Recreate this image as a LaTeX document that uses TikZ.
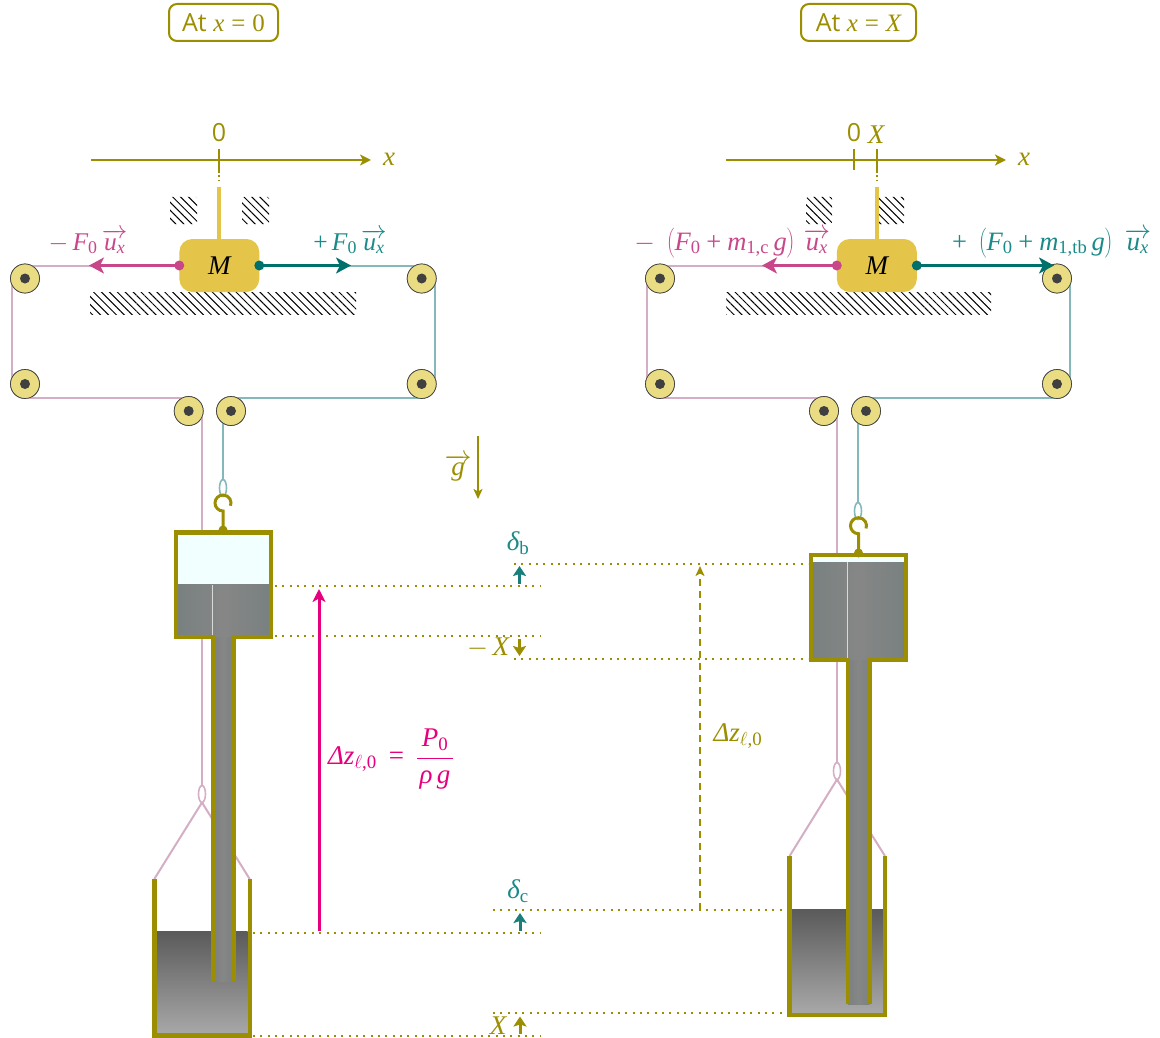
\documentclass[tikz,border=0pt]{standalone}
\usepackage{fix-cm}
\usepackage[no-math]{fontspec}
\newfontfamily\labelsans{Open Sans}
\newfontfamily\libs[NFSSFamily=libs]{Liberation Serif}
\DeclareSymbolFont{cmlet}{OML}{cmm}{m}{it}
\DeclareSymbolFont{letters}{TU}{libs}{m}{it}
\DeclareSymbolFont{operators}{TU}{libs}{m}{n}
\DeclareMathSymbol{\myell}{\mathord}{cmlet}{"60}
\DeclareMathSymbol{,}{\mathpunct}{operators}{`,}
\newcommand{\gk}[1]{\mbox{\libs\itshape #1}}
\newcommand{\vecux}{\overrightarrow{\rule{0pt}{13pt}u_x}}
\usetikzlibrary{arrows.meta,patterns.meta,shapes.geometric,calc}
\definecolor{olive}{HTML}{9B8E00}
\definecolor{pinkf}{HTML}{C8478A}
\definecolor{tealf}{HTML}{00706D}
\definecolor{tealt}{HTML}{1A8A88}
\definecolor{pinkrope}{HTML}{D4AEC4}
\definecolor{tealrope}{HTML}{85B8BA}
\definecolor{massc}{HTML}{E5C44A}
\definecolor{pulleyc}{HTML}{E9DC82}
\definecolor{hubc}{HTML}{404040}
\definecolor{magentaf}{HTML}{E6007E}
\definecolor{airc}{HTML}{F2FFFF}
\definecolor{tubeedge}{HTML}{788180}
\definecolor{tubemid}{HTML}{868686}
\definecolor{stemedge}{HTML}{7C8181}
\definecolor{liqtop}{HTML}{5A5A5A}
\definecolor{liqbot}{HTML}{A8A8A8}
\tikzset{
  every node/.style={inner sep=0pt,outer sep=0pt},
  txt/.style={font=\fontsize{27}{30}\selectfont},
  forcetxt/.style={font=\fontsize{25.5}{30}\selectfont},
  widetxt/.style={font=\fontsize{26.5}{30}\selectfont},
  titlebox/.style={draw=olive,text=olive,line width=2pt,rounded corners=8pt,minimum height=37pt,font=\labelsans\fontsize{25}{28}\selectfont},
  sanslabel/.style={text=olive,font=\labelsans\fontsize{25}{28}\selectfont},
  pulley/.style={circle,draw=hubc,fill=pulleyc,line width=0.7pt,minimum size=29pt},
  hub/.style={fill=hubc},
  hatchbox/.style={pattern={Lines[angle=-45,distance=5.6pt,line width=1pt]},rounded corners=1.5pt},
  massbox/.style={fill=massc,rounded corners=13pt,minimum width=80pt,minimum height=53pt,font=\fontsize{27}{30}\selectfont},
  axisline/.style={draw=olive,line width=2pt,-{Stealth[length=11pt,width=11pt,inset=3pt]}},
  tickline/.style={draw=olive,line width=1.3pt},
  tickdots/.style={draw=olive,line width=1.4pt,dash pattern=on 3pt off 2pt on 2pt off 3pt on 1.5pt off 9pt},
  ropeP/.style={draw=pinkrope,line width=2pt},
  ropeT/.style={draw=tealrope,line width=2pt},
  forceP/.style={draw=pinkf,line width=3.6pt,-{Stealth[length=15pt,width=16pt,inset=4pt]}},
  forceT/.style={draw=tealf,line width=3.6pt,-{Stealth[length=15pt,width=16pt,inset=4pt]}},
  wall/.style={draw=olive,line width=4.4pt,line join=miter},
  hookline/.style={draw=olive,line width=3pt},
  dotline/.style={draw=olive,line width=2pt,dash pattern=on 2pt off 5.35pt},
  loopP/.style={ellipse,draw=pinkrope,line width=1.6pt,minimum width=7pt,minimum height=17pt},
  loopT/.style={ellipse,draw=tealrope,line width=1.6pt,minimum width=7pt,minimum height=17pt},
  smallT/.style={draw=tealf!90,line width=3pt,-{Stealth[length=10pt,width=13pt,inset=2pt]}},
  smallO/.style={draw=olive,line width=3pt,-{Stealth[length=10pt,width=13pt,inset=2pt]}},
  gline/.style={draw=olive,line width=1.8pt,-{Stealth[length=10pt,width=9pt,inset=2.5pt]}},
  thinglow/.style={draw=white!70!gray,line width=1pt},
  tubeshade/.style={left color=tubeedge,right color=tubeedge,middle color=tubemid},
  stemshade/.style={left color=stemedge,right color=stemedge,middle color=tubemid},
  liquid/.style={top color=liqtop,bottom color=liqbot},
}
\begin{document}
\begin{tikzpicture}[x=1pt,y=-1pt]
\useasboundingbox (0,0) rectangle (1160,1038);
% ---------- titles
\node[titlebox,minimum width=109pt] (tL) at (223.5,22.5) {At $x=0$};
\node[titlebox,minimum width=115pt] (tR) at (858.5,22.5) {At $x=X$};
% ---------- LEFT: axis
\coordinate (axLa) at (91,160); \coordinate (axLb) at (371,160);
\draw[axisline] (axLa) -- (axLb);
\node[txt,text=olive] (xL) at (389,159) {$x$};
\node[sanslabel] (zeroL) at (219,133) {0};
\draw[tickline] (219,149) -- (219,170);
\draw[tickdots] (219,170) -- (219,183);
% LEFT: hatches
\path[hatchbox] (170,197) rectangle (197,224);
\path[hatchbox] (242,197) rectangle (269,224);
\path[pattern={Lines[angle=-45,distance=5.6pt,line width=1pt]}] (90,292) rectangle (356,314);
% LEFT: pulleys
\node[pulley] (pa) at (25,278.5) {};
\node[pulley] (pb) at (25,384) {};
\node[pulley] (pc) at (188.7,411) {};
\node[pulley] (pd) at (421.7,278.5) {};
\node[pulley] (pe) at (421.7,384) {};
\node[pulley] (pf) at (231,411) {};
% LEFT: loops
\node[loopT] (ltL) at (223,488) {};
\node[loopP] (lpL) at (202,794) {};
\coordinate (tipPL) at (100,265.5); \coordinate (tipTL) at (340,265.5);
\coordinate (buckLa) at (154.3,879); \coordinate (buckLb) at (249.7,879);
\draw[ropeP] (tipPL) -- (tipPL -| pa);
\draw[ropeP] ([xshift=1.2pt]pa.west) -- ([xshift=1.2pt]pb.west);
\draw[ropeP] ([yshift=1pt]pb.south) -- ([yshift=1pt]pb.south -| pc);
\draw[ropeP] (lpL.north |- pc) -- (lpL.north);
\draw[ropeP] (lpL.south) -- (buckLa);
\draw[ropeP] (lpL.south) -- (buckLb);
\draw[ropeT] (tipTL) -- (tipTL -| pd);
\draw[ropeT] ([xshift=-1.2pt]pd.east) -- ([xshift=-1.2pt]pe.east);
\draw[ropeT] ([yshift=1pt]pe.south) -- ([yshift=1pt]pe.south -| pf);
\draw[ropeT] (ltL.north) -- (ltL.north |- pf);
\foreach \n in {pa,pb,pc,pd,pe,pf}{\node[pulley] at (\n) {}; \fill[hub] (\n) circle (5);}
% LEFT: mass
\draw[massc,line width=4pt] (219,187) -- (219,240);
\node[massbox] (mL) at (219.3,265.5) {$M$};
\draw[forceP] (mL.west) -- (89,265.5);
\draw[forceT] (mL.east) -- (351,265.5);
\fill[pinkf] (mL.west) circle (5);
\fill[tealf] (mL.east) circle (5);
\node[forcetxt,text=pinkf,anchor=base] (fL) at (88,250) {$-\,F_0\,\vecux$};
\node[forcetxt,text=tealt,anchor=base] (fR) at (350,250) {$+\,F_0\,\vecux$};
% LEFT: bucket
\shade[liquid] (156.5,931) rectangle (247.5,1034);
\draw[wall] (154.3,878.7) -- (154.3,1035.5) -- (249.7,1035.5) -- (249.7,878.7);
% LEFT: float
\fill[airc] (176,532) rectangle (271,585);
\shade[tubeshade] (176,584) rectangle (271,637);
\shade[stemshade] (213,637) rectangle (233.5,981);
\draw[thinglow] (212.5,585) -- (212.5,635);
\draw[wall] (213,981.7) -- (213,637) -- (176,637) -- (176,532.5) -- (271,532.5) -- (271,637) -- (233.5,637) -- (233.5,981.7);
% LEFT: hook
\draw[hookline] (223,530) -- (223,511) arc (90:380:8);
\fill[olive] (223,530) circle (4.5);
% ---------- g
\coordinate (ga) at (478,436); \coordinate (gb) at (478,499);
\draw[gline] (ga) -- (gb);
\node[txt,text=olive] (gl) at (458,468) {$\overrightarrow{g}$};
% ---------- RIGHT: axis
\coordinate (axRa) at (726,160); \coordinate (axRb) at (1006,160);
\draw[axisline] (axRa) -- (axRb);
\node[txt,text=olive] (xR) at (1024,159) {$x$};
\node[sanslabel] (zeroR) at (854,133) {0};
\node[txt,text=olive] (XR) at (876,135) {$X$};
\draw[tickline] (854,149) -- (854,170);
\draw[tickline] (877,149) -- (877,170);
\draw[tickdots] (877,170) -- (877,183);
% RIGHT: hatches
\path[hatchbox] (806,197) rectangle (832,224);
\path[hatchbox] (878,197) rectangle (904,224);
\path[pattern={Lines[angle=-45,distance=5.6pt,line width=1pt]}] (726,292) rectangle (991,314);
% RIGHT: pulleys and ropes
\node[pulley] (qa) at (660,278.5) {};
\node[pulley] (qb) at (660,384) {};
\node[pulley] (qc) at (824,411) {};
\node[pulley] (qd) at (1057,278.5) {};
\node[pulley] (qe) at (1057,384) {};
\node[pulley] (qf) at (866,411) {};
\node[loopT] (ltR) at (858,511) {};
\node[loopP] (lpR) at (837,771) {};
\coordinate (tipPR) at (770,265.5);
\coordinate (buckRa) at (789.6,856); \coordinate (buckRb) at (885,856);
\draw[ropeP] (tipPR) -- (tipPR -| qa);
\draw[ropeP] ([xshift=1.2pt]qa.west) -- ([xshift=1.2pt]qb.west);
\draw[ropeP] ([yshift=1pt]qb.south) -- ([yshift=1pt]qb.south -| qc);
\draw[ropeP] (lpR.north |- qc) -- (lpR.north);
\draw[ropeP] (lpR.south) -- (buckRa);
\draw[ropeP] (lpR.south) -- (buckRb);
\draw[ropeT] ([xshift=-1.2pt]qd.east) -- ([xshift=-1.2pt]qe.east);
\draw[ropeT] ([yshift=1pt]qe.south) -- ([yshift=1pt]qe.south -| qf);
\draw[ropeT] (ltR.north) -- (ltR.north |- qf);
\foreach \n in {qa,qb,qc,qd,qe,qf}{\node[pulley] at (\n) {}; \fill[hub] (\n) circle (5);}
% RIGHT: mass
\draw[massc,line width=4pt] (877,187) -- (877,240);
\node[massbox] (mR) at (876.8,265.5) {$M$};
\draw[forceP] (mR.west) -- (762,265.5);
\draw[forceT] (mR.east) -- (1054,265.5);
\fill[pinkf] (mR.west) circle (5);
\fill[tealf] (mR.east) circle (5);
\node[widetxt,text=pinkf,anchor=base east] (gL) at (830,250) {$-\;\left(F_0+m_{1,\mathrm{c}}\,g\right)\,\vecux$};
\node[widetxt,text=tealt,anchor=base west] (gR) at (952,250) {$+\;\left(F_0+m_{1,\mathrm{tb}}\,g\right)\;\vecux$};
% RIGHT: bucket
\shade[liquid] (792,909) rectangle (883,1013);
\draw[wall] (789.6,856) -- (789.6,1015) -- (885,1015) -- (885,856);
% RIGHT: float
\fill[airc] (811,555) rectangle (905.7,563);
\shade[tubeshade] (811,562) rectangle (905.7,660);
\shade[stemshade] (848,660) rectangle (869.5,1004);
\draw[thinglow] (847.3,562) -- (847.3,658);
\draw[wall] (848,1004) -- (848,660) -- (811,660) -- (811,554.7) -- (905.7,554.7) -- (905.7,660) -- (869.5,660) -- (869.5,1004);
\draw[hookline] (858.5,553) -- (858.5,533.7) arc (90:380:8);
\fill[olive] (858.5,553) circle (4.5);
% ---------- dotted levels
\coordinate (d1a) at (275,586);   \coordinate (d1b) at (540,586);
\coordinate (d2a) at (275,636.3); \coordinate (d2b) at (540,636.3);
\coordinate (d3a) at (253,932.7); \coordinate (d3b) at (540,932.7);
\coordinate (d4a) at (253,1035.7);\coordinate (d4b) at (540,1035.7);
\coordinate (d5a) at (514,563.7); \coordinate (d5b) at (808,563.7);
\coordinate (d6a) at (514,658.7); \coordinate (d6b) at (808,658.7);
\coordinate (d7a) at (493,910);   \coordinate (d7b) at (786,910);
\coordinate (d8a) at (493,1013.3);\coordinate (d8b) at (786,1013.3);
\foreach \k in {1,...,8}{\draw[dotline] (d\k a) -- (d\k b);}
% small arrows
\draw[smallT] (519.5,583.5) -- (519.5,566);
\draw[smallO] (519.5,639) -- (519.5,656);
\draw[smallT] (520,930.5) -- (520,913);
\draw[smallO] (520,1034) -- (520,1016.5);
\node[txt,text=tealt] (db) at (518,543) {$\gk{δ}_{\mathrm{b}}$};
\node[txt,text=olive] (mX) at (488,648) {$-\,X$};
\node[txt,text=tealt] (dc) at (518,891) {$\gk{δ}_{\mathrm{c}}$};
\node[txt,text=olive] (pX) at (498,1025.5) {$X$};
% height arrows
\draw[draw=magentaf,line width=3pt,-{Stealth[length=13pt,width=13pt,inset=3.5pt]}] (319,931) -- (319,589);
\node[txt,text=magentaf] (dzL) at (391,759) {$\gk{Δ}z_{\myell,0}\,=\,\displaystyle\frac{\,P_0\,}{\gk{ρ}\,g}$};
\draw[draw=olive,line width=1.8pt,dash pattern=on 7pt off 5pt,-{Stealth[length=10pt,width=9pt,inset=2.5pt]}] (700,910) -- (700,566);
\node[txt,text=olive] (dzR) at (738,736) {$\gk{Δ}z_{\myell,0}$};
\end{tikzpicture}
\end{document}
